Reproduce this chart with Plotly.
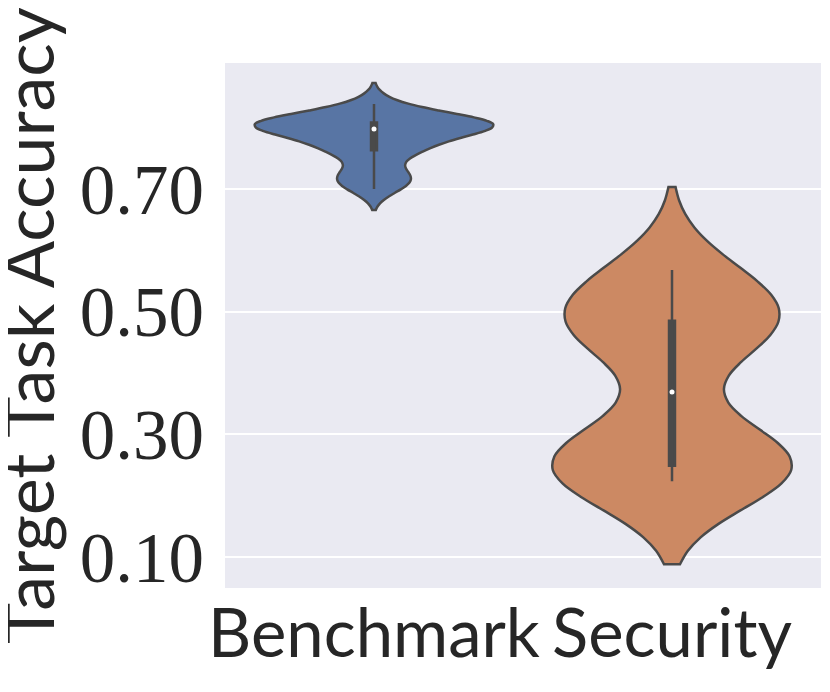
"""Violin plot of target task accuracy per category"""

import numpy as np
import plotly.graph_objects as go

categories = ["Benchmark", "Security"]

benchmark_acc = [0.700, 0.712, 0.720, 0.728, 0.758, 0.765, 0.768, 0.776, 0.788, 0.795,
                 0.798, 0.800, 0.803, 0.805, 0.806, 0.808, 0.810, 0.812, 0.816, 0.822, 0.839]
security_acc = [0.223, 0.232, 0.238, 0.243, 0.247, 0.250, 0.255, 0.260, 0.266, 0.275,
                0.463, 0.466, 0.469, 0.472, 0.476, 0.494, 0.512, 0.530, 0.550, 0.568]

ytick_vals = [0.10, 0.30, 0.50, 0.70]

fill_colors = ["#5875a4", "#cc8963"]
bandwidths = [0.017, 0.0677]
GRAY = "#4a4a4a"
TEXT = "#262626"

fig = go.Figure()
for name, vals, color, bw in zip(categories, [benchmark_acc, security_acc], fill_colors, bandwidths):
    fig.add_trace(go.Violin(
        x=[name] * len(vals),
        y=vals,
        name=name,
        fillcolor=color,
        line=dict(color=GRAY, width=2.5),
        bandwidth=bw,
        spanmode="soft",
        width=0.8,
        scalemode="width",
        points=False,
        box=dict(visible=True, width=0.025, fillcolor=GRAY, line=dict(color=GRAY, width=2.5)),
        meanline_visible=False,
        hoverinfo="skip",
    ))
    # white median dot like seaborn
    fig.add_trace(go.Scatter(
        x=[name],
        y=[float(np.median(vals))],
        mode="markers",
        marker=dict(color="white", size=5),
        hoverinfo="skip",
    ))

# the page body has an 8px margin, so the figure is a bit smaller than the window
fig.update_layout(
    width=822,
    height=684,
    margin=dict(l=217, r=9, t=55, b=104),
    violinmode="overlay",
    showlegend=False,
    plot_bgcolor="#eaeaf2",
    paper_bgcolor="white",
    xaxis=dict(
        type="category",
        categoryorder="array",
        categoryarray=categories,
        range=[-0.5, 1.5],
        automargin=False,
        showgrid=False,
        zeroline=False,
        showline=False,
        ticks="",
        ticklabelstandoff=1,
        tickfont=dict(family="Lato", size=67, color=TEXT),
    ),
    yaxis=dict(
        range=[0.0489, 0.9058],
        tickvals=ytick_vals,
        tickformat=".2f",
        automargin=False,
        showgrid=True,
        gridcolor="white",
        gridwidth=2,
        zeroline=False,
        showline=False,
        ticks="",
        ticklabelstandoff=20,
        tickfont=dict(family="Liberation Serif", size=71, color=TEXT),
    ),
    annotations=[dict(
        text="Target Task Accuracy",
        xref="paper", yref="paper",
        x=-0.333, y=0.5,
        xanchor="center", yanchor="middle",
        textangle=-90,
        showarrow=False,
        font=dict(family="Lato", size=70, color=TEXT),
    )],
)

fig.write_html("out.html")
